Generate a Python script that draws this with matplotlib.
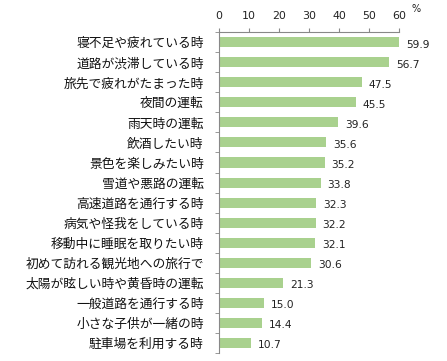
import matplotlib
matplotlib.use("Agg")
import matplotlib.pyplot as plt
import numpy as np

plt.rcParams['font.family'] = ['Noto Sans CJK JP', 'DejaVu Sans']

categories = ["寝不足や疲れている時", "道路が渋滞している時", "旅先で疲れがたまった時", "夜間の運転",
              "雨天時の運転", "飲酒したい時", "景色を楽しみたい時", "雪道や悪路の運転",
              "高速道路を通行する時", "病気や怪我をしている時", "移動中に睡眠を取りたい時",
              "初めて訪れる観光地への旅行で", "太陽が眩しい時や黄昏時の運転", "一般道路を通行する時",
              "小さな子供が一緒の時", "駐車場を利用する時"]
values = [59.9, 56.7, 47.5, 45.5, 39.6, 35.6, 35.2, 33.8, 32.3, 32.2, 32.1, 30.6, 21.3, 15.0, 14.4, 10.7]
xticks = [0, 10, 20, 30, 40, 50, 60]

fig = plt.figure(figsize=(4.47, 3.61), dpi=100)
ax = fig.add_axes([0.490, 0.022, 0.403, 0.889])

n = len(categories)
y = np.arange(n)
ax.barh(y, values, height=0.5, color='#a9d18e')
ax.set_ylim(n - 0.5, -0.5)
ax.set_xlim(0, 60)

for yi, v in zip(y, values):
    ax.text(v + 2.3, yi + 0.12, f"{v:.1f}", va='center', ha='left', fontsize=7.7,
            color='#222222', family='DejaVu Sans')

ax.xaxis.tick_top()
ax.set_xticks(xticks)
ax.set_xticklabels([str(t) for t in xticks], fontsize=7.9, color='#222222', family='DejaVu Sans')
ax.tick_params(axis='x', length=3, color='#888888', pad=5)

ax.set_yticks(y)
ax.set_yticklabels(categories, fontsize=9.2, color='#111111')
ax.tick_params(axis='y', length=0, pad=11)
ax.set_yticks(np.arange(n + 1) - 0.5, minor=True)
ax.tick_params(axis='y', which='minor', length=3, color='#888888')

for s in ['right', 'bottom']:
    ax.spines[s].set_visible(False)
ax.spines['left'].set_color('#888888')
ax.spines['top'].set_color('#888888')

fig.text(0.921, 0.975, '%', fontsize=7, color='#222222', ha='left', va='center', family='DejaVu Sans')

fig.savefig('out.png', dpi=100)
